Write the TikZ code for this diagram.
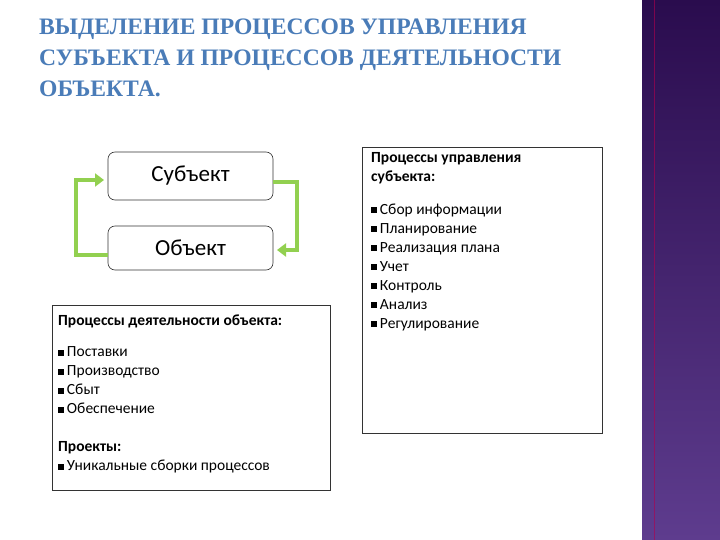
\documentclass[tikz,border=0pt]{standalone}
\usepackage{fontspec}
\setmainfont{Carlito}
\newfontfamily\titlefont{Liberation Serif}
\usetikzlibrary{arrows.meta}
\definecolor{tblue}{HTML}{4A7CB8}
\definecolor{arrgreen}{HTML}{92D050}
\definecolor{ptop}{HTML}{2A0C4E}
\definecolor{pbot}{HTML}{5E3C8E}
\newcommand{\bul}{\raisebox{0.15ex}{\rule{0.4em}{0.4em}}\,}
\tikzset{
  box/.style={draw=black!80, line width=0.6pt},
  rbox/.style={box, rounded corners=7pt},
  garrow/.style={draw=arrgreen, line width=3.5pt, -{Triangle[length=9pt,width=13pt]}},
  body/.style={font=\fontsize{15.5}{19}\selectfont, align=left, anchor=north west, inner sep=0pt},
}
\begin{document}
\begin{tikzpicture}[x=1pt,y=-1pt]
\useasboundingbox (0,0) rectangle (720,540);
\fill[white] (0,0) rectangle (720,540);
\shade[top color=ptop, bottom color=pbot] (642,0) rectangle (720,540);
\draw[red!40!violet, line width=0.8pt, opacity=0.6] (654,0) -- (654,540);
% title
\node[anchor=north west, inner sep=0pt, align=left, text=tblue,
  font=\titlefont\bfseries\fontsize{23.6}{31}\selectfont] (title) at (39,19)
  {ВЫДЕЛЕНИЕ ПРОЦЕССОВ УПРАВЛЕНИЯ\\СУБЪЕКТА И ПРОЦЕССОВ ДЕЯТЕЛЬНОСТИ\\ОБЪЕКТА.};
% boxes
\draw[rbox] (108,152) rectangle (273,200);
\node[font=\fontsize{23}{26}\selectfont] (subj) at (190.5,176) {Субъект};
\draw[rbox] (108,226) rectangle (273,270);
\node[font=\fontsize{23}{26}\selectfont] (obj) at (190.5,248) {Объект};
\coordinate (sL) at (108,180); \coordinate (sR) at (273,182);
\coordinate (oL) at (108,255); \coordinate (oR) at (273,250);
\draw[garrow] (oL) -- ++(-32,0) |- ([xshift=-4pt]sL);
\draw[garrow] (sR) -- ++(24,0) |- ([xshift=4pt]oR);
% bottom-left box
\draw[box] (52,305) rectangle (330,490);
\node[body] (act) at (58,315) {\textbf{Процессы деятельности объекта:}\\[12pt]
\bul Поставки\\ \bul Производство\\ \bul Сбыт\\ \bul Обеспечение\\[19pt]
\textbf{Проекты:}\\ \bul Уникальные сборки процессов};
% right box
\draw[box] (362,147) rectangle (602,433);
\node[body] (mgmt) at (371,152) {\textbf{Процессы управления}\\\textbf{субъекта:}\\[14pt]
\bul Сбор информации\\ \bul Планирование\\ \bul Реализация плана\\ \bul Учет\\ \bul Контроль\\ \bul Анализ\\ \bul Регулирование};
\end{tikzpicture}
\end{document}
